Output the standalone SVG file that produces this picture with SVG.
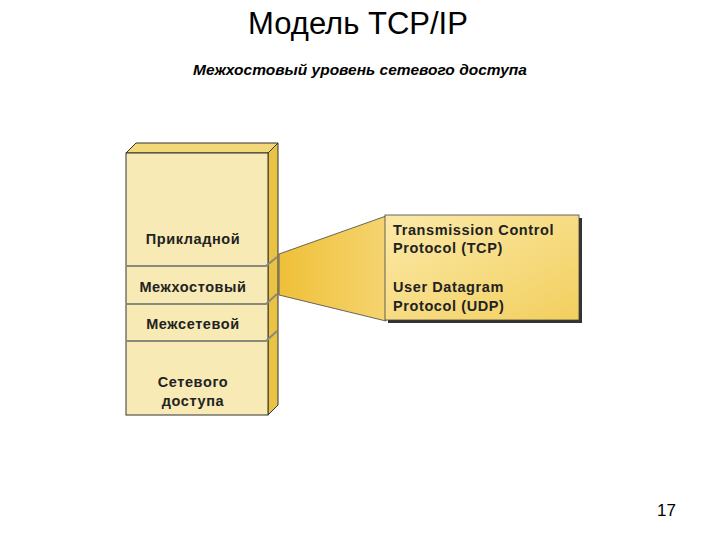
<svg xmlns="http://www.w3.org/2000/svg" width="720" height="540" viewBox="0 0 720 540">
<defs>
<style>
.lbl{font-family:"Liberation Sans",Arial,sans-serif;font-weight:bold;font-size:14.5px;fill:#222;letter-spacing:0.6px}
.div{stroke:#8a8a7a;stroke-width:2;fill:none}
</style>
<linearGradient id="bx" x1="0" y1="0" x2="1" y2="1"><stop offset="0" stop-color="#fbe9a8"/><stop offset="1" stop-color="#f2cf5e"/></linearGradient>
<linearGradient id="fn" x1="0" y1="0" x2="1" y2="0"><stop offset="0" stop-color="#efc038"/><stop offset="1" stop-color="#f5d470"/></linearGradient>
</defs>
<rect width="720" height="540" fill="#fff"/>
<text x="358" y="34" text-anchor="middle" font-family="Liberation Sans,Arial,sans-serif" font-size="31" fill="#000">Модель TCP/IP</text>
<text x="360" y="75" text-anchor="middle" font-family="Liberation Sans,Arial,sans-serif" font-size="15.5" font-weight="bold" font-style="italic" fill="#000">Межхостовый уровень сетевого доступа</text>
<g id="stack">
<polygon points="126,153 136,143 278,143 268,153" fill="#f3d878" stroke="#333" stroke-width="1"/>
<polygon points="268,153 278,143 278,405 268,415" fill="#eac244" stroke="#333" stroke-width="1"/>
<rect x="126" y="153" width="142" height="262" fill="#f8eab4" stroke="#333" stroke-width="1"/>
<path class="div" d="M126,266 H266 L277,257"/>
<path class="div" d="M126,304 H266 L277,294"/>
<path class="div" d="M126,341 H266 L277,331"/>
<text class="lbl" x="193" y="244" text-anchor="middle">Прикладной</text>
<text class="lbl" x="193" y="292" text-anchor="middle">Межхостовый</text>
<text class="lbl" x="193" y="329" text-anchor="middle">Межсетевой</text>
<text class="lbl" x="193" y="387" text-anchor="middle">Сетевого</text>
<text class="lbl" x="193" y="406" text-anchor="middle">доступа</text>
</g>
<g id="connectors">
<polygon points="279,254 386,216 386,321 279,295" fill="url(#fn)" stroke="#444" stroke-width="0.8"/>
</g>
<g id="callout">
<rect x="388" y="218" width="194" height="105" fill="#333"/>
<rect x="385" y="215" width="194" height="105" fill="url(#bx)" stroke="#444" stroke-width="0.8"/>
<text class="lbl" x="393" y="235">Transmission Control</text>
<text class="lbl" x="393" y="253">Protocol (TCP)</text>
<text class="lbl" x="393" y="292">User Datagram</text>
<text class="lbl" x="393" y="311">Protocol (UDP)</text>
</g>
<text x="676" y="516" text-anchor="end" font-family="Liberation Sans,Arial,sans-serif" font-size="17" fill="#000">17</text>
</svg>
